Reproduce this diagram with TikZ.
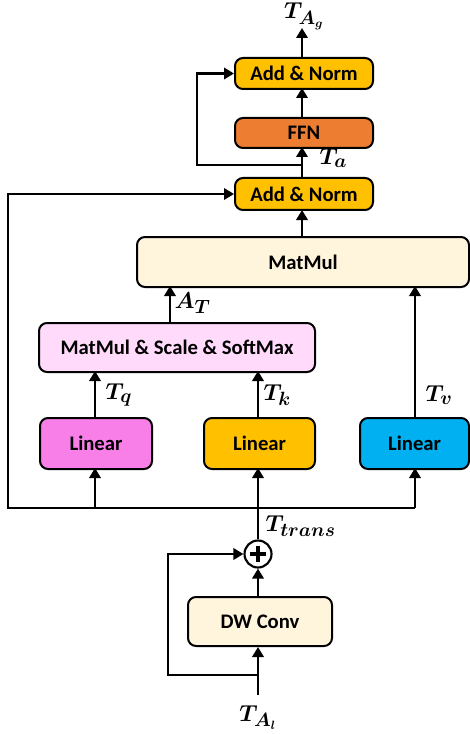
\documentclass[tikz,border=0pt]{standalone}
\usepackage{amsmath}
\usepackage{bm}
\usepackage{fontspec}
\setsansfont{Carlito}
\usetikzlibrary{arrows.meta,calc}
\definecolor{addnorm}{HTML}{FFC000}
\definecolor{ffn}{HTML}{ED7D31}
\definecolor{cream}{HTML}{FFF5DD}
\definecolor{softpink}{HTML}{FFDAFA}
\definecolor{pinklin}{HTML}{F87FE8}
\definecolor{bluelin}{HTML}{00B0F0}
\tikzset{
  blk/.style={draw=black,line width=1.5pt,rounded corners=6pt,inner sep=0pt,
    font=\sffamily\bfseries\fontsize{15.5}{17}\selectfont,anchor=north west},
  conn/.style={line width=2.1pt,-{Triangle[length=7.5pt,width=8.5pt]}},
  wire/.style={line width=2.1pt},
  lbl/.style={font=\fontsize{19}{22}\selectfont,inner sep=1pt}
}
\begin{document}
\begin{tikzpicture}[x=0.75pt,y=-0.75pt]
\useasboundingbox (0,0) rectangle (469,734);
% boxes
\node[blk,fill=addnorm,minimum width=138*0.75pt,minimum height=31*0.75pt] (an2) at (234,57) {Add \& Norm};
\node[blk,fill=ffn,minimum width=138*0.75pt,minimum height=30*0.75pt] (ffn) at (234,117) {FFN};
\node[blk,fill=addnorm,minimum width=138*0.75pt,minimum height=32*0.75pt] (an1) at (234,177) {Add \& Norm};
\node[blk,fill=cream,minimum width=332*0.75pt,minimum height=50*0.75pt] (mm) at (136,236) {MatMul};
\node[blk,fill=softpink,minimum width=276*0.75pt,minimum height=49*0.75pt] (sm) at (38,322) {MatMul \& Scale \& SoftMax};
\node[blk,fill=pinklin,minimum width=112*0.75pt,minimum height=51*0.75pt] (lq) at (39,417) {Linear};
\node[blk,fill=addnorm,minimum width=111*0.75pt,minimum height=51*0.75pt] (lk) at (203,417) {Linear};
\node[blk,fill=bluelin,minimum width=109*0.75pt,minimum height=51*0.75pt] (lv) at (359,417) {Linear};
\node[blk,fill=cream,minimum width=144*0.75pt,minimum height=49*0.75pt] (dw) at (187,596) {DW Conv};
\node[draw=black,line width=1.6pt,circle,minimum size=27*0.75pt,inner sep=0pt] (plus) at (258,554) {};
\draw[line width=2.4pt] ($(plus.center)+(-8,0)$) -- ($(plus.center)+(8,0)$);
\draw[line width=2.4pt] ($(plus.center)+(0,-8)$) -- ($(plus.center)+(0,8)$);
% coordinates
\coordinate (in) at (258,695);
\coordinate (br) at (258,675);
\coordinate (out) at (302,28);
\coordinate (sp) at (258,508);
% input
\draw[conn] (in) -- (dw.south -| in);
\draw[conn] (br) -- (168,675) |- (plus.west);
\draw[conn] (dw.north -| plus) -- (plus.south);
\draw[wire] (plus.north) -- (sp);
% split
\draw[wire] (95,508) -- (415,508);
\draw[conn] (95,508) -- (95,468);
\draw[conn] (sp) -- (258,468);
\draw[conn] (415,508) -- (415,468);
\draw[conn] (258,508) -- (8,508) |- (an1.west);
% qkv
\draw[conn] (95,417) -- (95,371);
\draw[conn] (258,417) -- (258,371);
\draw[conn] (415,417) -- (415,286);
\draw[conn] (170,322) -- (170,286);
\draw[conn] (302,236) -- (302,210);
% top
\draw[conn] (302,177) -- (302,147);
\draw[conn] (302,165) -- (197,165) |- (an2.west);
\draw[conn] (302,117) -- (302,88);
\draw[conn] (302,57) -- (out);
% labels
\node[lbl,anchor=base] (tag) at (304,19) {$\bm{T_{A_g}}$};
\node[lbl,anchor=west] (ta) at (318,158) {$\bm{T_a}$};
\node[lbl,anchor=west] (at) at (173,303) {$\bm{A_T}$};
\node[lbl,anchor=west] (tq) at (104,395) {$\bm{T_q}$};
\node[lbl,anchor=west] (tk) at (262,395) {$\bm{T_k}$};
\node[lbl,anchor=west] (tv) at (424,395) {$\bm{T_v}$};
\node[lbl,anchor=west] (tt) at (264,526) {$\bm{T_{trans}}$};
\node[lbl,anchor=base] (tal) at (258,721) {$\bm{T_{A_l}}$};
\end{tikzpicture}
\end{document}
